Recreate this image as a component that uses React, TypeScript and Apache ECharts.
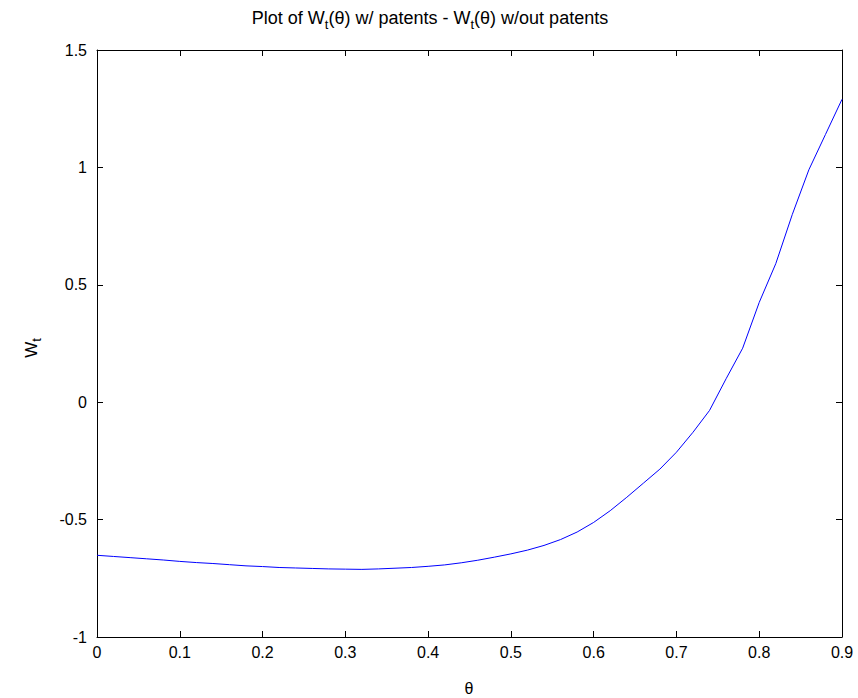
import React, { useEffect, useRef } from "react";
import * as echarts from "echarts";

const thetaValues: number[] = [
  0.0, 0.02, 0.04, 0.06, 0.08, 0.1, 0.12, 0.14, 0.16, 0.18, 0.2, 0.22, 0.24, 0.26, 0.28, 0.3,
  0.32, 0.34, 0.36, 0.38, 0.4, 0.42, 0.44, 0.46, 0.48, 0.5, 0.52, 0.54, 0.56, 0.58, 0.6, 0.62,
  0.64, 0.66, 0.68, 0.7, 0.72, 0.74, 0.76, 0.78, 0.8, 0.82, 0.84, 0.86, 0.88, 0.9,
];
const wtDiff: number[] = [
  -0.652, -0.657, -0.662, -0.667, -0.672, -0.678, -0.683, -0.687, -0.692, -0.697, -0.7, -0.704,
  -0.706, -0.708, -0.71, -0.711, -0.712, -0.71, -0.707, -0.704, -0.699, -0.693, -0.684, -0.673,
  -0.66, -0.646, -0.63, -0.61, -0.585, -0.553, -0.512, -0.462, -0.405, -0.345, -0.285, -0.213,
  -0.128, -0.035, 0.1, 0.23, 0.425, 0.59, 0.8, 0.99, 1.14, 1.29,
];
const xTicks = { min: 0, max: 0.9, interval: 0.1 };
const yTicks = { min: -1, max: 1.5, interval: 0.5 };

const FONT = "Liberation Sans, Arial, sans-serif";

export default function App() {
  const ref = useRef<HTMLDivElement>(null);
  useEffect(() => {
    if (!ref.current) return;
    const chart = echarts.init(ref.current, null, { renderer: "svg" });
    const data = thetaValues.map((t, i) => [t, wtDiff[i]]);
    const axisLine = { show: true, onZero: false, lineStyle: { color: "#000", width: 1 } };
    const axisTick = { show: true, inside: true, length: 6, lineStyle: { color: "#000" } };
    const labelStyle = { color: "#000", fontSize: 16, fontFamily: FONT };
    const fmt = (v: number) => String(Math.round(v * 10) / 10);
    chart.setOption({
      animation: false,
      backgroundColor: "#fff",
      grid: { left: 97, top: 50, width: 745, height: 587, containLabel: false },
      xAxis: [
        {
          type: "value",
          position: "bottom",
          ...xTicks,
          axisLine,
          axisTick,
          splitLine: { show: false },
          axisLabel: { ...labelStyle, margin: 7, formatter: fmt },
        },
        {
          type: "value",
          position: "top",
          ...xTicks,
          axisLine,
          axisTick,
          splitLine: { show: false },
          axisLabel: { show: false },
        },
      ],
      yAxis: [
        {
          type: "value",
          position: "left",
          ...yTicks,
          axisLine,
          axisTick,
          splitLine: { show: false },
          axisLabel: { ...labelStyle, margin: 10, formatter: fmt },
        },
        {
          type: "value",
          position: "right",
          ...yTicks,
          axisLine,
          axisTick,
          splitLine: { show: false },
          axisLabel: { show: false },
        },
      ],
      graphic: [
        {
          type: "text",
          x: 430,
          y: 18,
          style: {
            text: "{a|Plot of W}{s|t}{a|(θ) w/ patents - W}{s|t}{a|(θ) w/out patents}",
            align: "center",
            verticalAlign: "middle",
            fill: "#000",
            rich: {
              a: { fontSize: 18, fontFamily: FONT, fill: "#000", lineHeight: 22 },
              s: { fontSize: 13, fontFamily: FONT, fill: "#000", padding: [12, 0, 0, 0], lineHeight: 22 },
            },
          },
        },
        {
          type: "text",
          x: 31,
          y: 348,
          rotation: Math.PI / 2,
          style: {
            text: "{a|W}{s|t}",
            align: "center",
            verticalAlign: "middle",
            fill: "#000",
            rich: {
              a: { fontSize: 17, fontFamily: FONT, fill: "#000", lineHeight: 22 },
              s: { fontSize: 13, fontFamily: FONT, fill: "#000", padding: [11, 0, 0, 0], lineHeight: 22 },
            },
          },
        },
        {
          type: "text",
          x: 469,
          y: 688,
          style: {
            text: "θ",
            align: "center",
            verticalAlign: "middle",
            fill: "#000",
            fontSize: 16,
            fontFamily: FONT,
          },
        },
      ],
      series: [
        {
          type: "line",
          data,
          xAxisIndex: 0,
          yAxisIndex: 0,
          showSymbol: false,
          symbol: "none",
          lineStyle: { color: "#0000ff", width: 1 },
          smooth: false,
        },
      ],
    });
    return () => chart.dispose();
  }, []);
  return (
    <div
      ref={ref}
      style={{ position: "absolute", left: 0, top: 0, width: 858, height: 698 }}
    />
  );
}
